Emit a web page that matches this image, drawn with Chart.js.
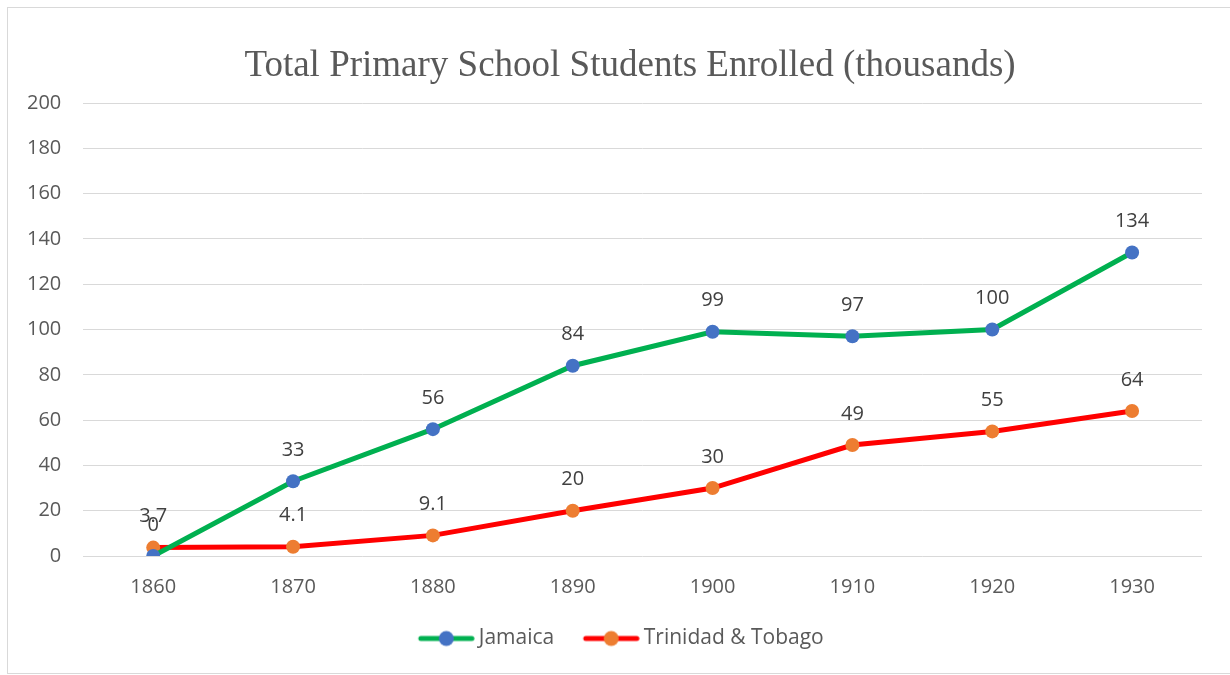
<!DOCTYPE html>
<html>
<head>
<meta charset="utf-8">
<script src="https://cdn.jsdelivr.net/npm/chart.js@4.4.0/dist/chart.umd.min.js"></script>
<style>
  body { margin: 0; background: #fff; overflow: hidden; }
  #frame { position: absolute; left: 7px; top: 7px; width: 1240px; height: 665px; border: 1px solid #d9d9d9; }
  #wrap { position: absolute; left: 0; top: 0; width: 1230px; height: 675px; }
</style>
</head>
<body>
<div id="frame"></div>
<div id="wrap"><canvas id="chart" width="1230" height="675"></canvas></div>
<script>
// data
const years = ['1860', '1870', '1880', '1890', '1900', '1910', '1920', '1930'];
const jamaica = [0, 33, 56, 84, 99, 97, 100, 134];
const trinidad = [3.7, 4.1, 9.1, 20, 30, 49, 55, 64];
const chartTitle = 'Total Primary School Students Enrolled (thousands)';

const tickFont = { family: 'Open Sans', size: 20 };
const legendFont = { family: 'Open Sans', size: 21 };

// line+dot picture for the legend (wider than the box so the text sits close)
function legendMark(lineColor, dotColor) {
  const c = document.createElement('canvas');
  c.width = 74;
  c.height = 18;
  const ctx = c.getContext('2d');
  ctx.strokeStyle = lineColor;
  ctx.lineWidth = 5;
  ctx.lineCap = 'round';
  ctx.beginPath();
  ctx.moveTo(20, 9);
  ctx.lineTo(71, 9);
  ctx.stroke();
  ctx.fillStyle = dotColor;
  ctx.beginPath();
  ctx.arc(45.5, 9, 7.5, 0, Math.PI * 2);
  ctx.fill();
  return c;
}
const marks = [legendMark('#00B050', '#4472C4'), legendMark('#FF0000', '#ED7D31')];

// title drawn by hand so it can sit where the original has it
const titlePlugin = {
  id: 'titlePlugin',
  afterUpdate(chart) {
    // nudge the legend a bit right, like the original
    chart.legend.left += 12;
    chart.legend.right += 12;
  },
  afterDraw(chart) {
    const ctx = chart.ctx;
    ctx.save();
    ctx.font = '37px "Liberation Serif"';
    ctx.fillStyle = '#595959';
    ctx.textAlign = 'center';
    ctx.textBaseline = 'middle';
    ctx.fillText(chartTitle, 630, 66);
    ctx.restore();
  }
};

// value labels above each point
const valueLabels = {
  id: 'valueLabels',
  afterDatasetsDraw(chart) {
    const ctx = chart.ctx;
    ctx.save();
    ctx.font = '20px "Open Sans"';
    ctx.fillStyle = '#404040';
    ctx.textAlign = 'center';
    ctx.textBaseline = 'middle';
    chart.data.datasets.forEach((ds, i) => {
      const meta = chart.getDatasetMeta(i);
      meta.data.forEach((pt, j) => {
        ctx.fillText(String(ds.data[j]), pt.x, pt.y - 31);
      });
    });
    ctx.restore();
  }
};

new Chart(document.getElementById('chart'), {
  type: 'line',
  data: {
    labels: years,
    datasets: [{
      label: 'Jamaica',
      data: jamaica,
      borderColor: '#00B050',
      backgroundColor: '#4472C4',
      pointBackgroundColor: '#4472C4',
      pointBorderWidth: 0,
      pointRadius: 7,
      borderWidth: 5,
      tension: 0
    }, {
      label: 'Trinidad & Tobago',
      data: trinidad,
      borderColor: '#FF0000',
      backgroundColor: '#ED7D31',
      pointBackgroundColor: '#ED7D31',
      pointBorderWidth: 0,
      pointRadius: 7,
      borderWidth: 5,
      tension: 0
    }]
  },
  options: {
    responsive: false,
    animation: false,
    layout: { padding: { left: 5, right: 28, top: 103, bottom: 16 } },
    plugins: {
      title: { display: false },
      legend: {
        position: 'bottom',
        labels: {
          color: '#595959',
          font: legendFont,
          usePointStyle: true,
          pointStyleWidth: 61,
          padding: 18,
          generateLabels(chart) {
            const items = Chart.defaults.plugins.legend.labels.generateLabels(chart);
            items.forEach((it, i) => { it.pointStyle = marks[i]; });
            return items;
          }
        }
      },
      tooltip: { enabled: false }
    },
    scales: {
      x: {
        offset: true,
        grid: { display: false },
        border: { display: false },
        ticks: { color: '#595959', font: tickFont, padding: 11 }
      },
      y: {
        min: 0,
        max: 200,
        grid: { color: '#d9d9d9', lineWidth: 1, drawTicks: false },
        border: { display: false },
        ticks: { stepSize: 20, color: '#595959', font: tickFont, padding: 22 }
      }
    }
  },
  plugins: [valueLabels, titlePlugin]
});
</script>
</body>
</html>
